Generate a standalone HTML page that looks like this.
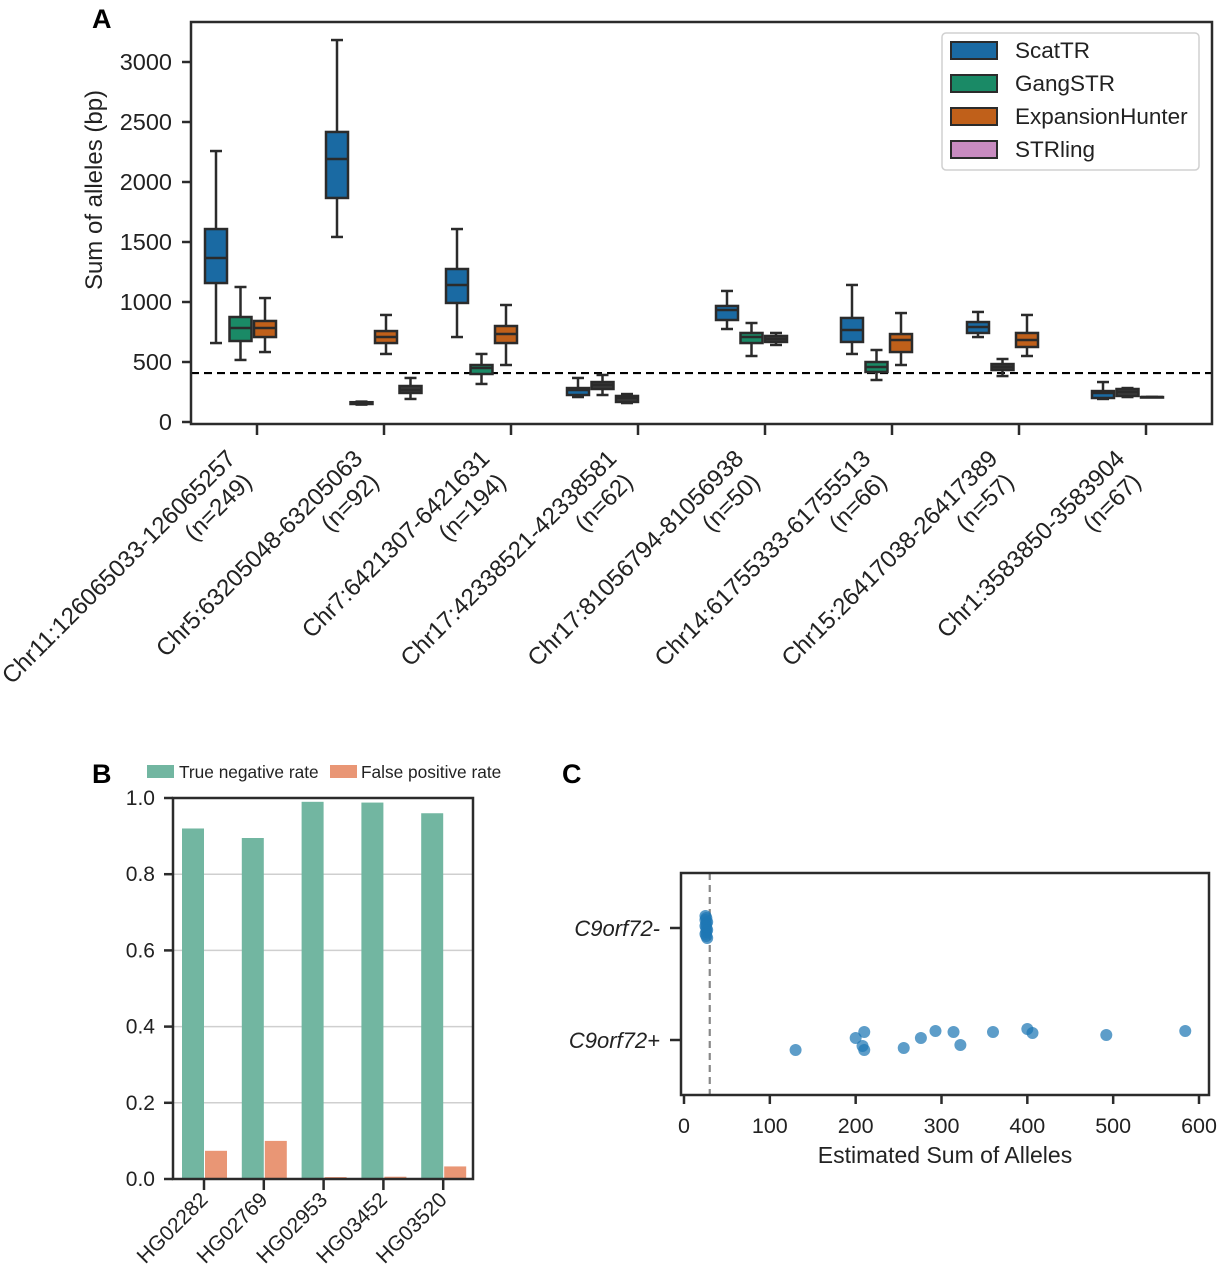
<!DOCTYPE html>
<html><head><meta charset="utf-8"><style>
html,body{margin:0;padding:0;background:#fff;}
svg{display:block;font-family:"Liberation Sans",sans-serif;}
</style></head><body>
<svg id="fig" width="1217" height="1280" viewBox="0 0 1217 1280" xmlns="http://www.w3.org/2000/svg">
<g id="pa"></g>
<g id="pb"></g>
<g id="pc"></g>
</svg>
<script>
// ---------- Panel A data ----------
const locusNames = ["Chr11:126065033-126065257","Chr5:63205048-63205063","Chr7:6421307-6421631","Chr17:42338521-42338581","Chr17:81056794-81056938","Chr14:61755333-61755513","Chr15:26417038-26417389","Chr1:3583850-3583904"];
const locusN = ["(n=249)","(n=92)","(n=194)","(n=62)","(n=50)","(n=66)","(n=57)","(n=67)"];
const toolNames = ["ScatTR","GangSTR","ExpansionHunter","STRling"];
const yTicksA = [0,500,1000,1500,2000,2500,3000];
const thresholdA = 408;
const boxGroups = [0,0,0, 1,1,1,1, 2,2,2, 3,3,3, 4,4,4, 5,5,5, 6,6,6, 7,7,7];
const boxSlots  = [0,1,2, 0,1,2,3, 0,1,2, 0,1,2, 0,1,2, 0,1,2, 0,1,2, 0,1,2];
const boxTools  = [0,1,2, 0,3,2,3, 0,1,2, 0,3,3, 0,1,3, 0,1,2, 0,3,2, 0,3,3];
const boxWLo = [658,517,583, 1542,145,567,192, 708,317,475, 208,225,158, 775,550,642, 567,350,475, 708,383,550, 192,208,208];
const boxQ1  = [1158,675,708, 1867,150,658,242, 992,400,658, 225,275,167, 850,658,667, 667,417,583, 742,433,625, 200,217,208];
const boxMed = [1367,783,783, 2192,158,708,267, 1142,450,733, 267,308,200, 933,708,692, 767,458,683, 792,458,683, 242,250,208];
const boxQ3  = [1608,875,842, 2417,165,758,300, 1275,475,800, 283,333,217, 967,742,717, 867,500,733, 833,483,742, 258,275,208];
const boxWHi = [2258,1125,1033, 3183,170,892,367, 1608,567,975, 367,392,233, 1092,825,742, 1142,600,908, 917,525,892, 333,283,208];
// ---------- Panel B data ----------
const samples = ["HG02282","HG02769","HG02953","HG03452","HG03520"];
const tnr = [0.92,0.895,0.99,0.988,0.96];
const fpr = [0.074,0.10,0.005,0.006,0.033];
const yTicksB = [0,0.2,0.4,0.6,0.8,1.0];
// ---------- Panel C data ----------
const posVals = [130,200,210,208,210,256,276,293,314,322,360,400,406,492,584];
const posJit  = [10,-2,-8,6,10,8,-2,-9,-8,5,-8,-11,-7,-5,-9];
const negVals = [25,26,25,27,26,25,26,27,26,25,26,27];
const negJit  = [-12,-10,-8,-6,-4,-2,0,2,4,6,8,10];
const xTicksC = [0,100,200,300,400,500,600];
const cutoffC = 30;

const NS="http://www.w3.org/2000/svg";
function mk(parent,tag,attrs){const e=document.createElementNS(NS,tag);for(const k in attrs)e.setAttribute(k,attrs[k]);parent.appendChild(e);return e;}
const INK="#2b2b2b";

// ================= Panel A =================
(function(){
const g=document.getElementById('pa');
const L=191,R=1212,T=22,B=424;
const y=v=>422-v*0.12;
const groupX=[216,337,457,578,727,852,978,1103];
const slotW=24.5, boxW=22;
const boxX=(gi,s)=>groupX[gi]+s*slotW;
const tickX=i=>257+127*i;
const fills=["#1a6aa3","#1a8a66","#c0601a","#3a3a3a"];
let t=mk(g,'text',{x:92,y:28,'font-size':27,'font-weight':'bold',fill:'#000'});t.textContent='A';

let d=mk(g,'line',{x1:L,x2:R,y1:y(thresholdA),y2:y(thresholdA),stroke:'#000','stroke-width':2.2,'stroke-dasharray':'8,5'});

for(let i=0;i<boxGroups.length;i++){
  const cx=boxX(boxGroups[i],boxSlots[i]);
  const bg=mk(g,'g',{});
  
  
  mk(bg,'line',{x1:cx,x2:cx,y1:y(boxWHi[i]),y2:y(boxQ3[i]),stroke:INK,'stroke-width':2.5});
  mk(bg,'line',{x1:cx,x2:cx,y1:y(boxQ1[i]),y2:y(boxWLo[i]),stroke:INK,'stroke-width':2.5});
  mk(bg,'line',{x1:cx-6,x2:cx+6,y1:y(boxWHi[i]),y2:y(boxWHi[i]),stroke:INK,'stroke-width':2.5});
  mk(bg,'line',{x1:cx-6,x2:cx+6,y1:y(boxWLo[i]),y2:y(boxWLo[i]),stroke:INK,'stroke-width':2.5});
  const h=Math.max(y(boxQ1[i])-y(boxQ3[i]),0.5);
  mk(bg,'rect',{x:cx-boxW/2,y:y(boxQ3[i]),width:boxW,height:h,fill:fills[boxTools[i]],stroke:INK,'stroke-width':2.5});
  mk(bg,'line',{x1:cx-boxW/2,x2:cx+boxW/2,y1:y(boxMed[i]),y2:y(boxMed[i]),stroke:INK,'stroke-width':2.5});
}
let f=mk(g,'rect',{x:L,y:T,width:R-L,height:B-T,fill:'none',stroke:INK,'stroke-width':2.5});

yTicksA.forEach(v=>{
  mk(g,'line',{x1:182,x2:L,y1:y(v),y2:y(v),stroke:INK,'stroke-width':2.5});
  const tx=mk(g,'text',{x:172,y:y(v)+8,'font-size':23.5,'text-anchor':'end',fill:'#222'});tx.textContent=v;
  
});
let yl=mk(g,'text',{x:0,y:0,transform:'translate(102,190) rotate(-90)','font-size':24,'text-anchor':'middle',fill:'#222'});
yl.textContent='Sum of alleles (bp)';
locusNames.forEach((n,i)=>{
  const x=tickX(i);
  mk(g,'line',{x1:x,x2:x,y1:B,y2:435,stroke:INK,'stroke-width':2.5});
  const tx=mk(g,'text',{transform:`translate(${x-20},460) rotate(-45)`,'font-size':24,'text-anchor':'end',fill:'#222'});
  
  const s1=mk(tx,'tspan',{x:0,y:0});s1.textContent=n;
  const s2=mk(tx,'tspan',{x:-5,y:28});s2.textContent=locusN[i];
});
const lg=mk(g,'g',{});
mk(lg,'rect',{x:942,y:33,width:257,height:137,rx:4,fill:'#fff',stroke:'#d0d0d0','stroke-width':1.5});
const legFill=["#1a6aa3","#1a8a66","#c0601a","#c88bc0"];
toolNames.forEach((n,i)=>{
  const e=mk(lg,'g',{});
  mk(e,'rect',{x:951,y:42+i*33,width:46,height:17,fill:legFill[i],stroke:INK,'stroke-width':2});
  const tx=mk(e,'text',{x:1015,y:58+i*33,'font-size':22.5,fill:'#222'});tx.textContent=n;
});
})();

// ================= Panel B =================
(function(){
const g=document.getElementById('pb');
const L=173,R=473,T=798,B=1179;
const y=v=>B-v*(B-T);
const tickX=i=>204+59.8*i;
let t=mk(g,'text',{x:92,y:783,'font-size':27,'font-weight':'bold',fill:'#000'});t.textContent='B';

yTicksB.forEach(v=>{ if(v>0&&v<1){const gl=mk(g,'line',{x1:L,x2:R,y1:y(v),y2:y(v),stroke:'#cfcfcf','stroke-width':1.5});
  }});
samples.forEach((s,i)=>{
  const x=tickX(i);
  const b1=mk(g,'rect',{x:x-22,y:y(tnr[i]),width:22,height:B-y(tnr[i]),fill:'#72b6a1'});
  
  const b2=mk(g,'rect',{x:x+1,y:y(fpr[i]),width:22,height:B-y(fpr[i]),fill:'#e99675'});
  
  mk(g,'line',{x1:x,x2:x,y1:B,y2:B+11,stroke:INK,'stroke-width':2.5});
  const tx=mk(g,'text',{transform:`translate(${x+5},${B+22}) rotate(-45)`,'font-size':21,'text-anchor':'end',fill:'#222'});
  tx.textContent=s;
});
mk(g,'rect',{x:L,y:T,width:R-L,height:B-T,fill:'none',stroke:INK,'stroke-width':2.5});
yTicksB.forEach(v=>{
  mk(g,'line',{x1:L-9,x2:L,y1:y(v),y2:y(v),stroke:INK,'stroke-width':2.5});
  const tx=mk(g,'text',{x:155,y:y(v)+7,'font-size':21,'text-anchor':'end',fill:'#222'});tx.textContent=v.toFixed(1);
  
});
const lg=mk(g,'g',{});
const e1=mk(lg,'g',{});
mk(e1,'rect',{x:147,y:765,width:27,height:13,fill:'#72b6a1'});
let a=mk(e1,'text',{x:179,y:778,'font-size':17.3,fill:'#222'});a.textContent='True negative rate';
const e2=mk(lg,'g',{});
mk(e2,'rect',{x:330,y:765,width:27,height:13,fill:'#e99675'});
let b=mk(e2,'text',{x:361,y:778,'font-size':17.3,fill:'#222'});b.textContent='False positive rate';
})();

// ================= Panel C =================
(function(){
const g=document.getElementById('pc');
const L=681,R=1209,T=873,B=1095;
const x=v=>684+v*(1199-684)/600;
const yNeg=928,yPos=1040;
let t=mk(g,'text',{x:562,y:783,'font-size':27,'font-weight':'bold',fill:'#000'});t.textContent='C';

let cl=mk(g,'line',{x1:x(cutoffC),x2:x(cutoffC),y1:T,y2:B,stroke:'#888','stroke-width':2.2,'stroke-dasharray':'7,5'});

negVals.forEach((v,i)=>{const c=mk(g,'circle',{cx:x(v),cy:yNeg+negJit[i],r:6,fill:'#1f77b4','fill-opacity':0.75});
  });
posVals.forEach((v,i)=>{const c=mk(g,'circle',{cx:x(v),cy:yPos+posJit[i],r:6,fill:'#1f77b4','fill-opacity':0.72});
  });
mk(g,'rect',{x:L,y:T,width:R-L,height:B-T,fill:'none',stroke:INK,'stroke-width':2.5});
xTicksC.forEach(v=>{
  mk(g,'line',{x1:x(v),x2:x(v),y1:B,y2:B+9,stroke:INK,'stroke-width':2.5});
  const tx=mk(g,'text',{x:x(v),y:B+38,'font-size':21.5,'text-anchor':'middle',fill:'#222'});tx.textContent=v;
  
});
[["C9orf72-",yNeg],["C9orf72+",yPos]].forEach(([n,yy])=>{
  mk(g,'line',{x1:L-11,x2:L,y1:yy,y2:yy,stroke:INK,'stroke-width':2.5});
  const tx=mk(g,'text',{x:660,y:yy+8,'font-size':22,'font-style':'italic','text-anchor':'end',fill:'#222'});tx.textContent=n;
  
});
let xl=mk(g,'text',{x:945,y:1163,'font-size':23,'text-anchor':'middle',fill:'#222'});xl.textContent='Estimated Sum of Alleles';

})();
</script>
</body></html>
